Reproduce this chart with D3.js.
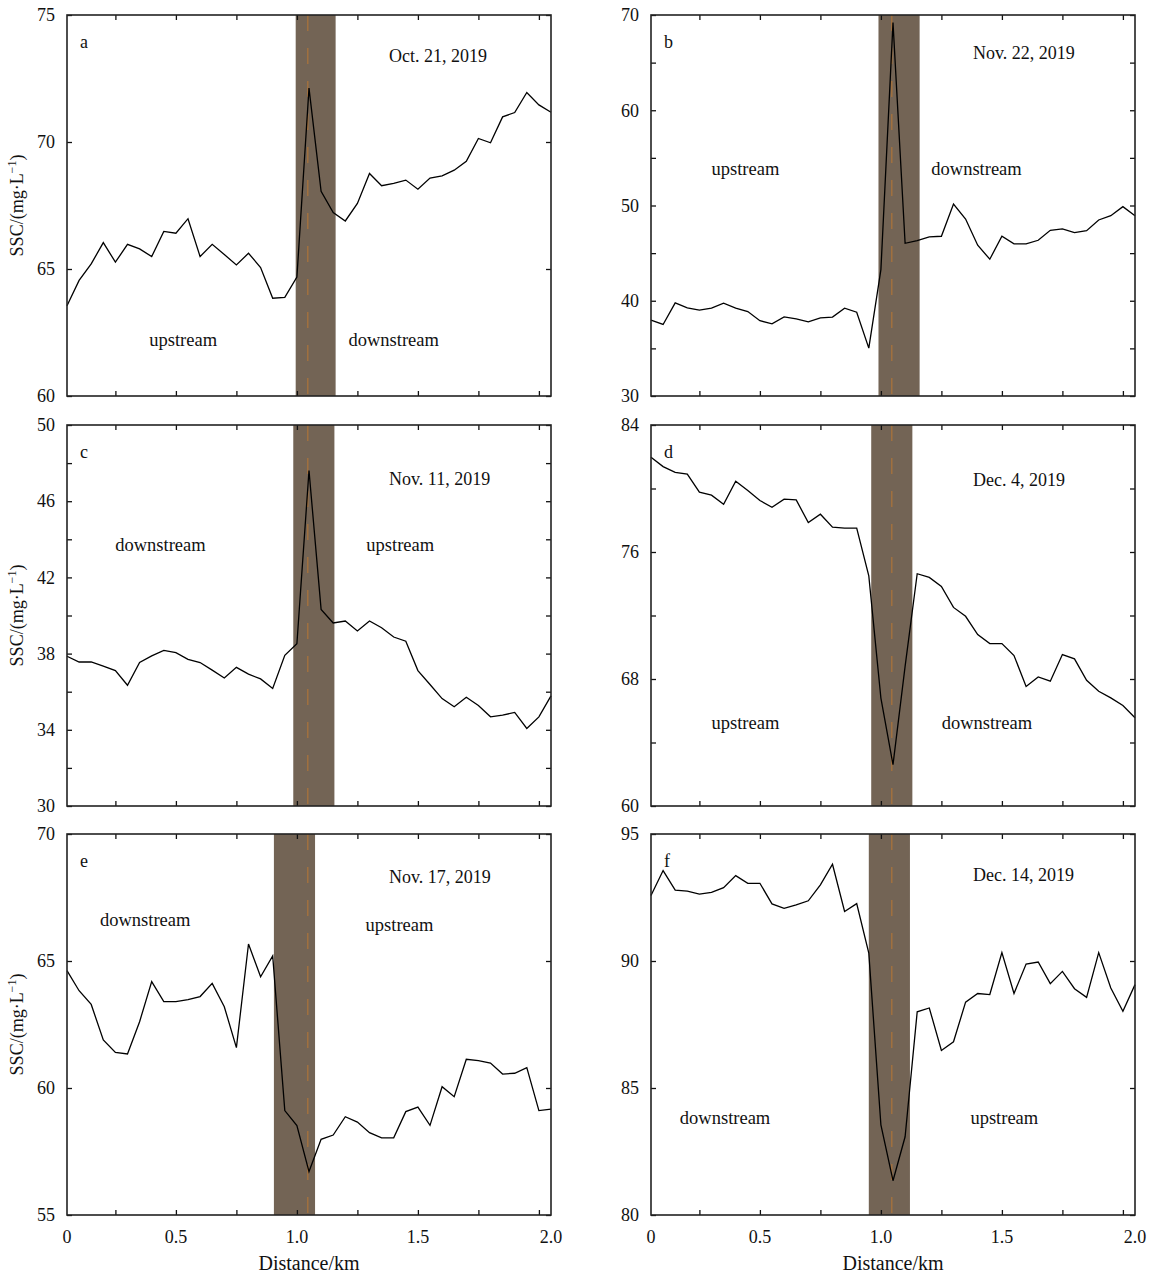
<!DOCTYPE html>
<html>
<head>
<meta charset="utf-8">
<script src="https://cdn.jsdelivr.net/npm/d3@7"></script>
<style>
  html, body { margin: 0; padding: 0; background: #fff; }
  svg text { font-family: "Liberation Serif", "Times New Roman", serif; fill: #111; }
</style>
</head>
<body>
<div id="chart"></div>
<script>
// distance along the section, km (41 samples)
const DIST = [0.05, 0.10, 0.15, 0.20, 0.25, 0.30, 0.35, 0.40, 0.45, 0.50,
  0.55, 0.60, 0.65, 0.70, 0.75, 0.80, 0.85, 0.90, 0.95, 1.00,
  1.05, 1.10, 1.15, 1.20, 1.25, 1.30, 1.35, 1.40, 1.45, 1.50,
  1.55, 1.60, 1.65, 1.70, 1.75, 1.80, 1.85, 1.90, 1.95, 2.00, 2.05];

const SSC_A = [63.55, 64.55, 65.2, 66.04, 65.27, 65.97, 65.79, 65.49, 66.48, 66.41,
  66.98, 65.49, 65.97, 65.57, 65.16, 65.62, 65.06, 63.85, 63.88, 64.68,
  72.12, 68.06, 67.22, 66.89, 67.58, 68.76, 68.28, 68.37, 68.5, 68.14,
  68.58, 68.67, 68.89, 69.24, 70.14, 69.97, 70.99, 71.16, 71.95, 71.46, 71.17];
const SSC_B = [37.97, 37.51, 39.78, 39.26, 39.01, 39.22, 39.75, 39.22, 38.87, 37.9,
  37.58, 38.31, 38.1, 37.79, 38.21, 38.28, 39.22, 38.8, 35.03, 43.27,
  69.2, 46.03, 46.31, 46.7, 46.77, 50.16, 48.58, 45.83, 44.36, 46.77,
  45.97, 45.97, 46.35, 47.4, 47.54, 47.15, 47.36, 48.48, 48.93, 49.88, 48.93];
const SSC_C = [37.86, 37.56, 37.56, 37.34, 37.11, 36.34, 37.53, 37.88, 38.17, 38.05,
  37.7, 37.53, 37.13, 36.72, 37.28, 36.92, 36.67, 36.17, 37.91, 38.52,
  47.61, 40.32, 39.61, 39.71, 39.19, 39.71, 39.36, 38.87, 38.65, 37.11,
  36.38, 35.64, 35.21, 35.71, 35.28, 34.68, 34.77, 34.91, 34.07, 34.68, 35.78];
const SSC_D = [81.97, 81.38, 81.02, 80.9, 79.77, 79.58, 79.01, 80.46, 79.87, 79.24,
  78.82, 79.33, 79.28, 77.86, 78.38, 77.57, 77.5, 77.5, 74.5, 66.8,
  62.6, 68.8, 74.63, 74.4, 73.83, 72.51, 71.95, 70.8, 70.23, 70.23,
  69.48, 67.53, 68.13, 67.86, 69.54, 69.27, 67.92, 67.23, 66.81, 66.33, 65.56];
const SSC_E = [64.62, 63.83, 63.29, 61.89, 61.4, 61.34, 62.61, 64.19, 63.4, 63.4,
  63.48, 63.6, 64.12, 63.2, 61.59, 65.67, 64.38, 65.2, 59.11, 58.52,
  56.71, 57.98, 58.15, 58.87, 58.66, 58.24, 58.04, 58.04, 59.07, 59.25,
  58.53, 60.05, 59.66, 61.13, 61.08, 60.98, 60.55, 60.58, 60.8, 59.11, 59.17];
const SSC_F = [92.58, 93.56, 92.79, 92.75, 92.63, 92.7, 92.89, 93.36, 93.06, 93.06,
  92.25, 92.07, 92.21, 92.37, 93.0, 93.81, 91.95, 92.26, 90.31, 83.55,
  81.35, 83.08, 88.0, 88.15, 86.48, 86.82, 88.38, 88.72, 88.68, 90.33,
  88.72, 89.88, 89.96, 89.11, 89.59, 88.91, 88.57, 90.33, 88.94, 88.02, 89.07];

const LETTERS = ['a', 'b', 'c', 'd', 'e', 'f'];
const DATES = ['Oct. 21, 2019', 'Nov. 22, 2019', 'Nov. 11, 2019', 'Dec. 4, 2019', 'Nov. 17, 2019', 'Dec. 14, 2019'];
const SERIES = [SSC_A, SSC_B, SSC_C, SSC_D, SSC_E, SSC_F];
const Y_DOMAINS = [[60, 75], [30, 70], [30, 50], [60, 84], [55, 70], [80, 95]];
const Y_LABEL_TICKS = [[60, 65, 70, 75], [30, 40, 50, 60, 70], [30, 34, 38, 42, 46, 50],
  [60, 68, 76, 84], [55, 60, 65, 70], [80, 85, 90, 95]];
const Y_MINOR_STEP = [5, 5, 2, 4, 5, 5];
// dam / crossing zone (km)
const BANDS = [[0.995, 1.16], [0.99, 1.16], [0.985, 1.155], [0.96, 1.13], [0.905, 1.075], [0.95, 1.12]];
const CENTER_KM = 1.045;
// region labels: [text, km, SSC]
const REGION_LABELS = [
  [['upstream', 0.53, 62.2], ['downstream', 1.40, 62.2]],
  [['upstream', 0.44, 53.8], ['downstream', 1.395, 53.8]],
  [['downstream', 0.436, 43.7], ['upstream', 1.427, 43.7]],
  [['upstream', 0.44, 65.2], ['downstream', 1.438, 65.2]],
  [['downstream', 0.373, 66.6], ['upstream', 1.424, 66.4]],
  [['downstream', 0.356, 83.8], ['upstream', 1.51, 83.8]],
];
const X_DOMAIN = [0.05, 2.05];
const X_TICKS = [0.25, 0.5, 0.75, 1.0, 1.25, 1.5, 1.75, 2.0];
const X_TICK_LABELS = ['0', '0.5', '1.0', '1.5', '2.0'];
const X_TICK_LABEL_AT = [0.05, 0.5, 1.0, 1.5, 2.05];

const W = 1150, H = 1273;
const COL_X = [67, 651];
const ROW_Y = [15, 425, 834];
const PW = 484, PH = 381;
const DATE_Y = [47, 44, 60, 61, 49, 47];

const svg = d3.select('#chart').append('svg')
  .attr('width', W).attr('height', H);

SERIES.forEach((values, i) => {
  const col = i % 2, row = Math.floor(i / 2);
  const g = svg.append('g').attr('transform', `translate(${COL_X[col]},${ROW_Y[row]})`);
  const x = d3.scaleLinear().domain(X_DOMAIN).range([0, PW]);
  const y = d3.scaleLinear().domain(Y_DOMAINS[i]).range([PH, 0]);
  const minor = d3.range(Y_DOMAINS[i][0], Y_DOMAINS[i][1] + 0.001, Y_MINOR_STEP[i]);

  g.append('rect')
    .attr('x', x(BANDS[i][0])).attr('y', 0)
    .attr('width', x(BANDS[i][1]) - x(BANDS[i][0])).attr('height', PH)
    .attr('fill', '#736455');
  g.append('line')
    .attr('x1', x(CENTER_KM)).attr('x2', x(CENTER_KM))
    .attr('y1', 0).attr('y2', PH)
    .attr('stroke', '#a8733c').attr('stroke-width', 1.3)
    .attr('stroke-dasharray', '16,17');

  g.append('path')
    .datum(values)
    .attr('fill', 'none')
    .attr('stroke', '#000')
    .attr('stroke-width', 1.3)
    .attr('stroke-linejoin', 'miter')
    .attr('d', d3.line().x((d, k) => x(DIST[k])).y(d => y(d)));

  // inner ticks on all four sides
  const tickAxes = [
    [d3.axisBottom(x).tickValues(X_TICKS), `translate(0,${PH})`],
    [d3.axisTop(x).tickValues(X_TICKS), 'translate(0,0)'],
    [d3.axisLeft(y).tickValues(minor), 'translate(0,0)'],
    [d3.axisRight(y).tickValues(minor), `translate(${PW},0)`],
  ];
  tickAxes.forEach(([ax, tr]) => {
    const a = g.append('g').attr('transform', tr)
      .call(ax.tickSize(-5).tickFormat(''));
    a.select('.domain').remove();
    a.selectAll('line').attr('stroke', '#111').attr('stroke-width', 1.3);
  });

  const yl = g.append('g')
    .call(d3.axisLeft(y).tickValues(Y_LABEL_TICKS[i]).tickSize(0).tickPadding(12).tickFormat(d3.format('d')));
  yl.select('.domain').remove();
  yl.selectAll('text').attr('font-size', 18).attr('font-family', '"Liberation Serif", serif').attr('fill', '#111');

  g.append('rect')
    .attr('width', PW).attr('height', PH)
    .attr('fill', 'none').attr('stroke', '#222').attr('stroke-width', 1.6);

  g.append('text').attr('x', 13).attr('y', 33).attr('font-size', 18).text(LETTERS[i]);
  g.append('text').attr('x', 322).attr('y', DATE_Y[i]).attr('font-size', 18).text(DATES[i]);

  REGION_LABELS[i].forEach(([t, km, v]) => {
    g.append('text')
      .attr('x', x(km)).attr('y', y(v))
      .attr('text-anchor', 'middle').attr('dominant-baseline', 'central')
      .attr('font-size', 18.5).text(t);
  });

  if (col === 0) {
    const t = svg.append('text')
      .attr('transform', `translate(${COL_X[col] - 44},${ROW_Y[row] + PH / 2}) rotate(-90)`)
      .attr('text-anchor', 'middle').attr('font-size', 18);
    t.append('tspan').text('SSC/(mg·L');
    t.append('tspan').attr('dy', -7).attr('font-size', 12).text('−1');
    t.append('tspan').attr('dy', 7).text(')');
  }

  if (row === 2) {
    X_TICK_LABELS.forEach((lab, k) => {
      g.append('text')
        .attr('x', x(X_TICK_LABEL_AT[k])).attr('y', PH + 28)
        .attr('text-anchor', 'middle').attr('font-size', 18).text(lab);
    });
    g.append('text')
      .attr('x', PW / 2).attr('y', PH + 55)
      .attr('text-anchor', 'middle').attr('font-size', 20).text('Distance/km');
  }
});
</script>
</body>
</html>
